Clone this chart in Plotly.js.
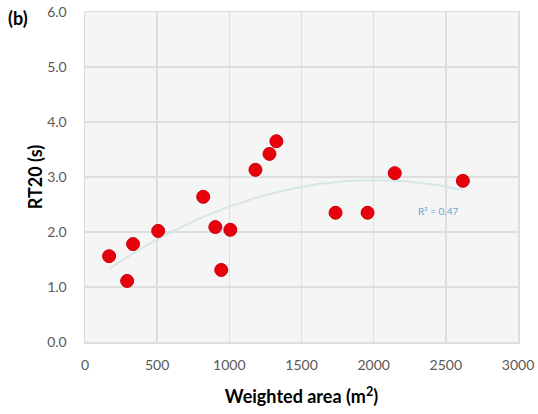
<!DOCTYPE html>
<html>
<head>
<meta charset="utf-8">
<script src="https://cdn.plot.ly/plotly-3.0.1.min.js"></script>
<style>html,body{margin:0;padding:0;background:#fff;}#chart{width:538px;height:414px;}</style>
</head>
<body>
<div id="chart"></div>
<script>
// Data
const weightedArea = [167, 292, 333, 507, 819, 903, 944, 1007, 1181, 1278, 1326, 1736, 1958, 2146, 2618];
const rt20 = [1.56, 1.11, 1.78, 2.02, 2.64, 2.09, 1.31, 2.04, 3.13, 3.42, 3.65, 2.35, 2.35, 3.07, 2.93];
const xTicks = [0, 500, 1000, 1500, 2000, 2500, 3000];
const yTicks = [0, 1, 2, 3, 4, 5, 6];
const yTickText = ['0.0', '1.0', '2.0', '3.0', '4.0', '5.0', '6.0'];
const r2Label = 'R² = 0.47';

// Second-order least-squares trendline computed from the data
function polyfit2(xs, ys) {
  let n = xs.length, sx=0, sx2=0, sx3=0, sx4=0, sy=0, sxy=0, sx2y=0;
  for (let i=0;i<n;i++){const x=xs[i], y=ys[i];
    sx+=x; sx2+=x*x; sx3+=x*x*x; sx4+=x*x*x*x; sy+=y; sxy+=x*y; sx2y+=x*x*y;}
  const A=[[n,sx,sx2,sy],[sx,sx2,sx3,sxy],[sx2,sx3,sx4,sx2y]];
  for (let c=0;c<3;c++){
    for (let r=c+1;r<3;r++){const f=A[r][c]/A[c][c]; for(let k=c;k<4;k++) A[r][k]-=f*A[c][k];}
  }
  const b=[0,0,0];
  for (let r=2;r>=0;r--){let s=A[r][3]; for(let k=r+1;k<3;k++) s-=A[r][k]*b[k]; b[r]=s/A[r][r];}
  return b;
}
const coef = polyfit2(weightedArea, rt20);
const xmin = Math.min(...weightedArea), xmax = Math.max(...weightedArea);
const trendX = [], trendY = [];
for (let i=0;i<=60;i++){const x = xmin + (xmax-xmin)*i/60; trendX.push(x); trendY.push(coef[0]+coef[1]*x+coef[2]*x*x);}

const font = "Lato, 'Open Sans', sans-serif";
const data = [
  {x: trendX, y: trendY, mode: 'lines', line: {color: '#d6e6e8', width: 2}, hoverinfo: 'skip', showlegend: false},
  {x: weightedArea, y: rt20, mode: 'markers', marker: {color: '#e8000b', size: 13, line: {color: '#c8000a', width: 1}}, showlegend: false}
];
const layout = {
  width: 538, height: 414,
  margin: {l: 85, r: 20, t: 12, b: 72},
  paper_bgcolor: '#ffffff',
  plot_bgcolor: '#f5f5f5',
  font: {family: font, color: '#595959'},
  xaxis: {
    range: [0, 3000], tickvals: xTicks, ticktext: xTicks.map(String),
    showgrid: true, gridcolor: '#dedede', gridwidth: 1.5,
    zeroline: false, showline: true, linecolor: '#dedede', linewidth: 1.5, mirror: true,
    ticks: 'outside', ticklen: 10, tickcolor: 'rgba(0,0,0,0)',
    tickfont: {size: 14, color: '#595959', family: font},
    title: {text: 'Weighted area (m<sup>2</sup>)', font: {size: 18, color: '#000', family: font, weight: 'bold'}, standoff: 18}
  },
  yaxis: {
    range: [0, 6], tickvals: yTicks, ticktext: yTickText,
    showgrid: true, gridcolor: '#dedede', gridwidth: 1.5,
    zeroline: false, showline: true, linecolor: '#dedede', linewidth: 1.5, mirror: true,
    ticks: 'outside', ticklen: 14, tickcolor: 'rgba(0,0,0,0)',
    tickfont: {size: 14, color: '#595959', family: font},
    title: {text: 'RT20 (s)', font: {size: 18, color: '#000', family: font, weight: 'bold'}, standoff: 0}
  },
  annotations: [
    {x: 2444, y: 2.38, xref: 'x', yref: 'y', text: r2Label, showarrow: false,
     font: {size: 10, color: '#5aa9d9', family: font}},
    {x: 6, y: 18, xref: 'paper', yref: 'paper', xanchor: 'left', yanchor: 'middle', text: '<b>(b)</b>', showarrow: false,
     font: {size: 18, color: '#000', family: font}}
  ]
};
layout.annotations[1].x = (6 - 85) / (538 - 85 - 20);
layout.annotations[1].y = 1 - (18 - 12) / (414 - 12 - 72);
Plotly.newPlot('chart', data, layout, {displayModeBar: false, staticPlot: true});
</script>
</body>
</html>
